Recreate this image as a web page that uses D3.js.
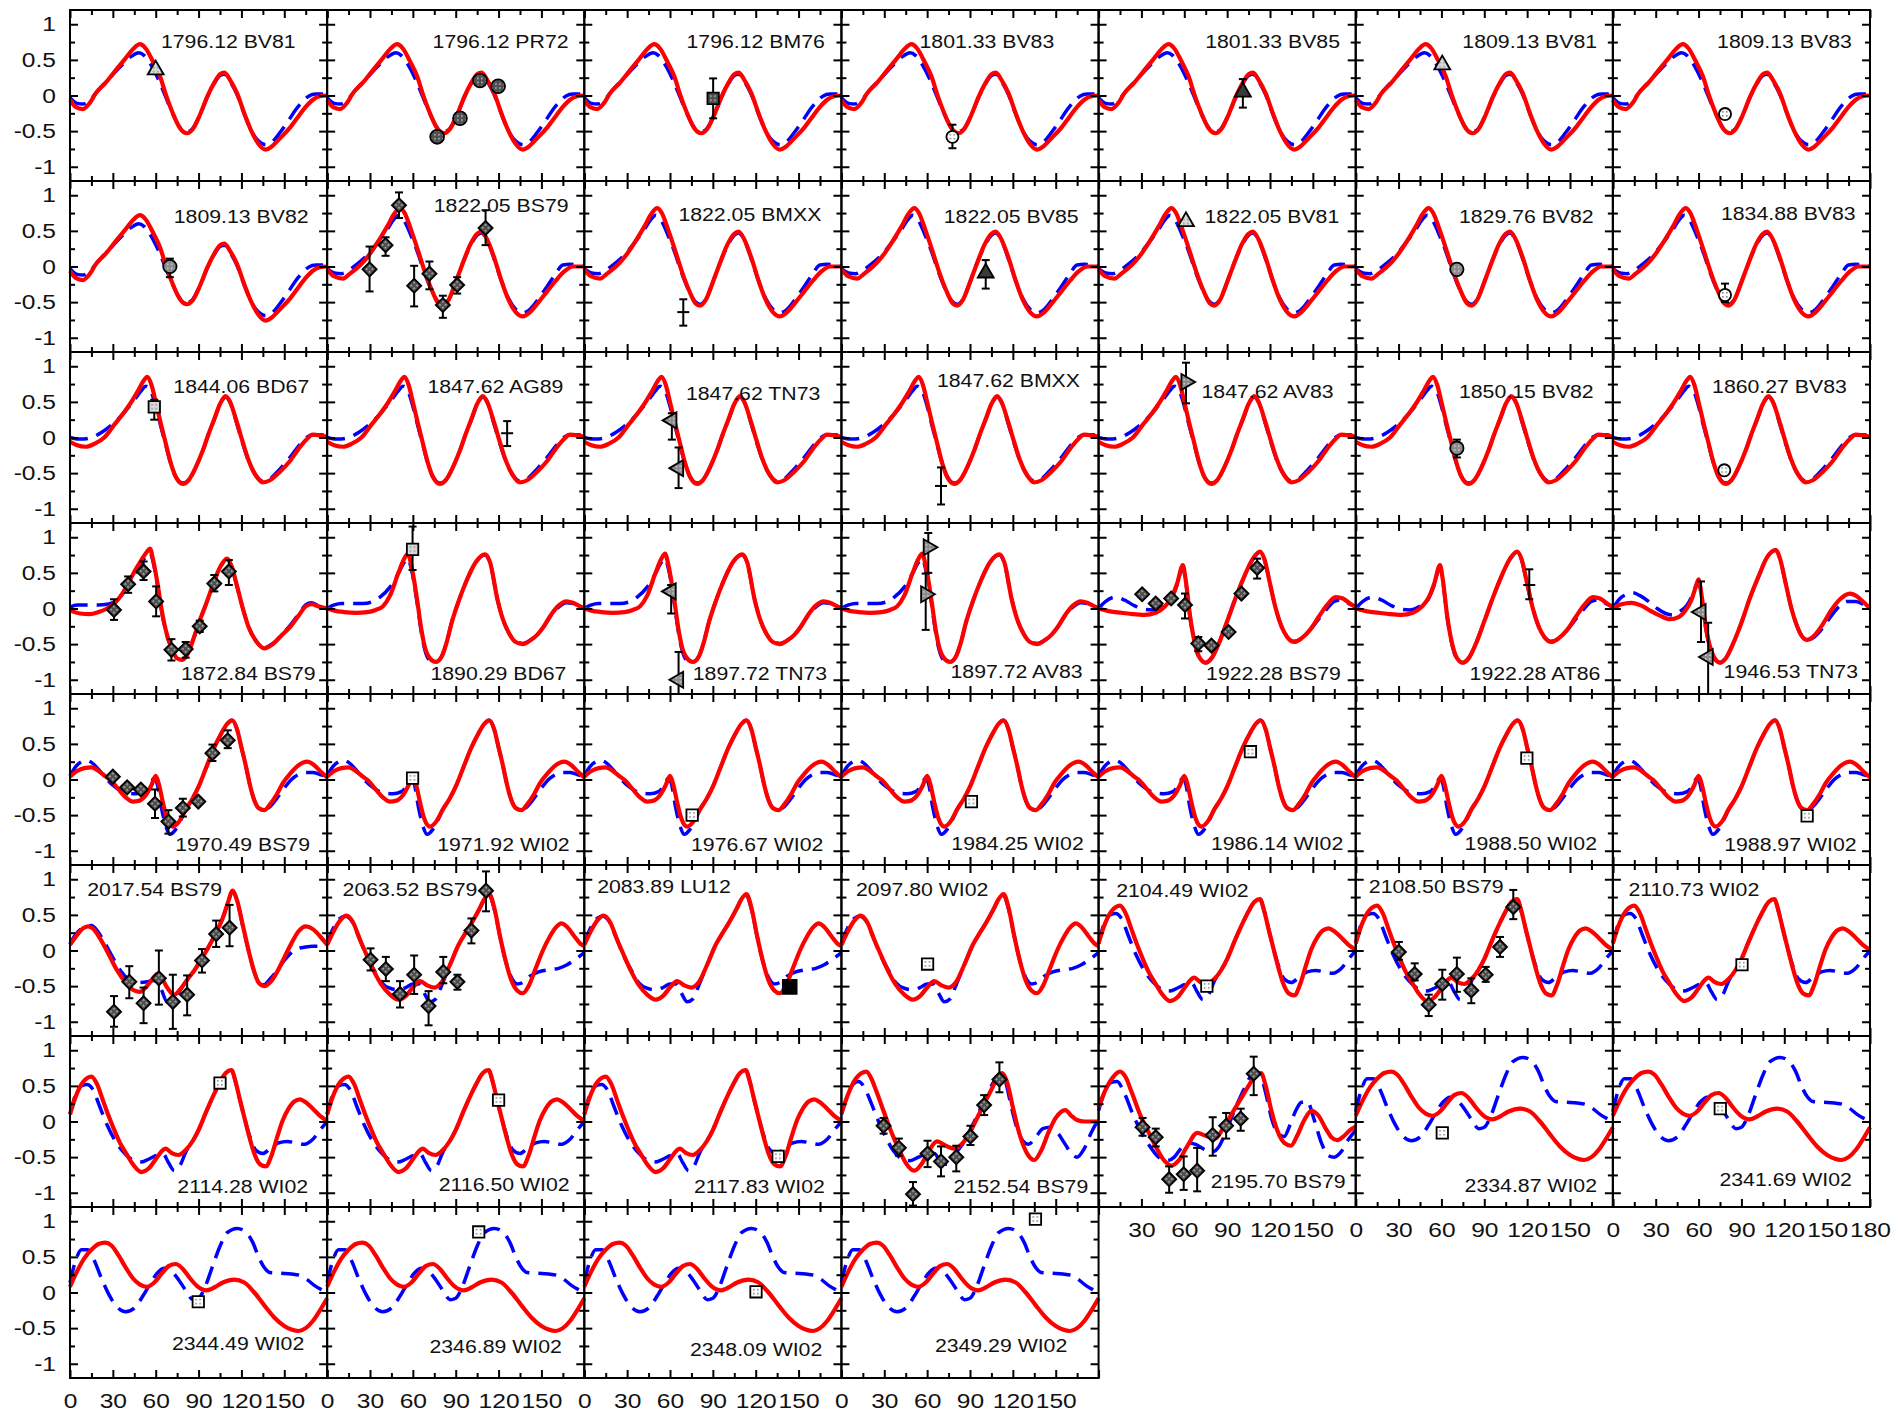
<!DOCTYPE html>
<html><head><meta charset="utf-8">
<script src="https://cdnjs.cloudflare.com/ajax/libs/d3/7.8.5/d3.min.js"></script>
<style>
body{margin:0;background:#fff;}
svg{display:block;font-family:"Liberation Sans",Arial,Helvetica,sans-serif;}
</style></head><body>
<svg id="chart" width="1898" height="1416"></svg>
<script>
// ---------------- DATA ----------------
const panelLabels = [
"1796.12 BV81","1796.12 PR72","1796.12 BM76","1801.33 BV83","1801.33 BV85","1809.13 BV81","1809.13 BV83",
"1809.13 BV82","1822.05 BS79","1822.05 BMXX","1822.05 BV85","1822.05 BV81","1829.76 BV82","1834.88 BV83",
"1844.06 BD67","1847.62 AG89","1847.62 TN73","1847.62 BMXX","1847.62 AV83","1850.15 BV82","1860.27 BV83",
"1872.84 BS79","1890.29 BD67","1897.72 TN73","1897.72 AV83","1922.28 BS79","1922.28 AT86","1946.53 TN73",
"1970.49 BS79","1971.92 WI02","1976.67 WI02","1984.25 WI02","1986.14 WI02","1988.50 WI02","1988.97 WI02",
"2017.54 BS79","2063.52 BS79","2083.89 LU12","2097.80 WI02","2104.49 WI02","2108.50 BS79","2110.73 WI02",
"2114.28 WI02","2116.50 WI02","2117.83 WI02","2152.54 BS79","2195.70 BS79","2334.87 WI02","2341.69 WI02",
"2344.49 WI02","2346.89 WI02","2348.09 WI02","2349.29 WI02"];

// which model curve pair each panel uses
const panelModel = ["A","A","A","A","A","A","A","A","B","B","B","B","B","B",
"C","C","C","C","C","C","C","D","E","E","E","F","F","G",
"H","H","H","H","H","H","H","I","J","J","J","K","K","K",
"K","K","K","L","M","N","N","N","N","N","N"];

// model curves: [angle (deg), value]
const redA=[[0,-0.06],[4,-0.16],[9,-0.19],[14,-0.1],[18,0.03],[25,0.18],[31,0.33],[38,0.5],[44,0.65],[49,0.72],[53,0.66],[58,0.48],[63,0.27],[67,0.02],[72,-0.25],[77,-0.46],[82,-0.53],[86,-0.47],[91,-0.27],[96,-0.02],[101,0.18],[105,0.3],[108,0.32],[112,0.22],[117,0.03],[122,-0.25],[127,-0.5],[132,-0.68],[137,-0.76],[141,-0.72],[147,-0.6],[154,-0.45],[160,-0.29],[165,-0.16],[170,-0.06],[175,-0.01],[180,0]];
const blueA=[[0,-0.03],[5,-0.11],[9,-0.12],[14,-0.06],[20,0.08],[28,0.25],[36,0.42],[43,0.55],[48,0.6],[52,0.56],[57,0.42],[62,0.22],[67,-0.02],[72,-0.26],[77,-0.45],[82,-0.51],[86,-0.46],[91,-0.27],[96,-0.03],[101,0.17],[105,0.28],[108,0.3],[112,0.2],[117,0.01],[122,-0.26],[127,-0.5],[132,-0.64],[137,-0.69],[141,-0.66],[147,-0.52],[153,-0.35],[158,-0.2],[163,-0.08],[167,-0.01],[172,0.02],[180,0.02]];
const redB=[[0,-0.04],[5,-0.14],[11,-0.17],[16,-0.1],[21,-0.02],[26,0.08],[30,0.18],[36,0.36],[42,0.56],[47,0.74],[51,0.82],[54,0.76],[59,0.5],[64,0.2],[68,-0.05],[73,-0.32],[78,-0.52],[81,-0.55],[85,-0.47],[90,-0.22],[95,0.05],[100,0.3],[105,0.46],[108,0.49],[112,0.38],[117,0.12],[122,-0.2],[127,-0.47],[132,-0.64],[137,-0.7],[142,-0.64],[148,-0.5],[154,-0.35],[160,-0.2],[166,-0.07],[172,0],[180,0]];
const blueB=[[0,-0.03],[5,-0.09],[10,-0.1],[16,-0.04],[22,0.05],[28,0.16],[35,0.33],[42,0.52],[47,0.67],[50,0.72],[54,0.64],[59,0.42],[64,0.16],[68,-0.08],[73,-0.33],[78,-0.5],[81,-0.53],[85,-0.46],[90,-0.22],[95,0.05],[100,0.28],[105,0.44],[108,0.47],[112,0.37],[117,0.1],[122,-0.2],[127,-0.45],[132,-0.6],[137,-0.65],[142,-0.6],[148,-0.45],[154,-0.28],[160,-0.1],[165,0.02],[170,0.03],[180,0]];
const redC=[[0,-0.06],[5,-0.11],[11,-0.13],[17,-0.09],[24,0],[31,0.18],[37,0.33],[42,0.47],[48,0.67],[52,0.81],[54,0.85],[57,0.74],[60,0.5],[63.5,0.2],[67,-0.08],[70,-0.32],[74,-0.55],[79,-0.65],[83,-0.6],[88,-0.42],[93,-0.18],[97,0.05],[101,0.26],[105,0.47],[109,0.58],[112,0.5],[117,0.2],[121,-0.07],[125,-0.32],[130,-0.53],[135,-0.63],[140,-0.6],[147,-0.48],[154,-0.33],[160,-0.16],[165,-0.04],[170,0.04],[175,0.03],[180,0.01]];
const blueC=[[0,0],[5,-0.02],[10,-0.02],[15,0],[22,0.07],[30,0.19],[37,0.33],[44,0.5],[50,0.66],[53,0.72],[57,0.63],[60,0.44],[63.5,0.16],[67,-0.1],[70,-0.33],[74,-0.55],[79,-0.64],[83,-0.6],[88,-0.42],[93,-0.18],[97,0.05],[101,0.25],[105,0.46],[109,0.57],[112,0.5],[117,0.18],[121,-0.09],[125,-0.33],[130,-0.53],[135,-0.61],[140,-0.58],[147,-0.44],[154,-0.28],[160,-0.12],[165,-0.01],[170,0.04],[175,0.04],[180,0.02]];
const redD=[[0,-0.03],[7,-0.07],[14,-0.08],[20,-0.05],[26,0],[31,0.07],[37,0.22],[42,0.4],[46,0.55],[50,0.68],[54,0.8],[56,0.84],[58,0.7],[61,0.38],[64,0],[67,-0.3],[71,-0.55],[75,-0.7],[78,-0.72],[82,-0.65],[86,-0.45],[90,-0.21],[95,0.05],[100,0.33],[105,0.58],[110,0.7],[113,0.6],[117,0.31],[121,0],[125,-0.26],[130,-0.45],[136,-0.56],[142,-0.5],[148,-0.38],[154,-0.26],[160,-0.1],[165,0.03],[169,0.06],[174,0.03],[180,0]];
const blueD=[[0,0.02],[5,0.05],[12,0.05],[20,0.05],[26,0.06],[31,0.09],[37,0.21],[42,0.37],[46,0.51],[50,0.64],[54,0.75],[56,0.78],[58,0.67],[61,0.36],[64,-0.02],[67,-0.32],[71,-0.56],[75,-0.7],[78,-0.72],[82,-0.65],[86,-0.45],[90,-0.21],[95,0.05],[100,0.33],[105,0.57],[110,0.69],[113,0.59],[117,0.3],[121,0],[125,-0.26],[130,-0.45],[136,-0.55],[142,-0.49],[148,-0.37],[154,-0.24],[160,-0.08],[165,0.05],[169,0.08],[174,0.04],[180,0]];
const redE=[[0,0],[5,-0.03],[12,-0.05],[20,-0.06],[28,-0.05],[34,-0.02],[39,0.03],[44,0.18],[49.7,0.49],[54,0.7],[56.5,0.77],[59,0.6],[63,0.12],[66,-0.3],[68.4,-0.54],[72,-0.7],[76,-0.75],[80,-0.68],[84,-0.45],[87,-0.21],[92,0.1],[97.8,0.4],[104,0.65],[110.5,0.76],[114,0.65],[119.3,0.12],[123,-0.15],[127.4,-0.35],[132,-0.47],[137,-0.5],[142,-0.45],[147,-0.37],[151.4,-0.26],[157,-0.08],[162,0.04],[167.6,0.1],[172,0.08],[176,0.04],[180,0]];
const blueE=[[0,0],[5,0.05],[10,0.07],[18,0.07],[25,0.07],[31,0.09],[37,0.16],[44,0.3],[50,0.5],[54,0.65],[56.5,0.7],[59,0.55],[63,0.08],[66,-0.34],[68.4,-0.58],[72,-0.73],[76,-0.75],[80,-0.68],[84,-0.45],[87,-0.21],[92,0.1],[97.8,0.4],[104,0.65],[110.5,0.75],[114,0.64],[119.3,0.12],[123,-0.15],[127.4,-0.35],[132,-0.46],[137,-0.49],[142,-0.45],[147,-0.37],[151.4,-0.26],[157,-0.09],[162,0.02],[167.6,0.08],[172,0.07],[176,0.04],[180,0]];
const redF=[[0,0],[8,-0.04],[16,-0.06],[24,-0.08],[32,-0.09],[40,-0.06],[46,0.02],[51,0.15],[55,0.35],[59,0.61],[61,0.4],[64,-0.1],[67,-0.45],[71,-0.7],[75,-0.76],[79,-0.7],[84,-0.5],[90,-0.18],[96,0.15],[102,0.45],[108,0.7],[113,0.8],[116,0.7],[120,0.35],[124,0],[128,-0.25],[132,-0.4],[137,-0.47],[142,-0.42],[148,-0.3],[154,-0.12],[160,0.05],[166,0.16],[171,0.14],[176,0.07],[180,0.02]];
const blueF=[[0,0],[5,0.1],[12,0.16],[18,0.12],[25,0.04],[32,-0.01],[38,-0.02],[44,0.02],[51,0.14],[55,0.33],[59,0.58],[61,0.38],[64,-0.12],[67,-0.47],[71,-0.71],[75,-0.76],[79,-0.7],[84,-0.5],[90,-0.18],[96,0.15],[102,0.45],[108,0.69],[113,0.79],[116,0.69],[120,0.34],[124,0],[128,-0.25],[132,-0.4],[137,-0.46],[142,-0.42],[148,-0.3],[154,-0.15],[160,0],[165,0.1],[170,0.12],[176,0.06],[180,0.02]];
const redG=[[0,0],[6,0.06],[13,0.08],[20,0.04],[27,-0.04],[33,-0.1],[40,-0.15],[46,-0.12],[51,-0.02],[55,0.12],[58,0.3],[60,0.41],[62,0.2],[65,-0.25],[69,-0.6],[72,-0.72],[75,-0.76],[79,-0.7],[84,-0.5],[90,-0.2],[96,0.15],[102,0.45],[108,0.72],[114,0.82],[117,0.7],[121,0.35],[125,0],[129,-0.25],[132,-0.38],[136,-0.44],[141,-0.38],[147,-0.22],[153,-0.02],[159,0.13],[166,0.21],[171,0.17],[176,0.08],[180,0]];
const blueG=[[0,0],[5,0.14],[10,0.2],[14,0.22],[19,0.18],[25,0.1],[31,0],[37,-0.07],[42,-0.09],[47,-0.04],[52,0.05],[56,0.2],[60,0.39],[62,0.18],[65,-0.27],[69,-0.62],[72,-0.73],[75,-0.76],[79,-0.7],[84,-0.5],[90,-0.2],[96,0.15],[102,0.45],[108,0.72],[114,0.82],[117,0.7],[121,0.35],[125,0],[129,-0.25],[132,-0.38],[136,-0.44],[141,-0.4],[147,-0.27],[153,-0.1],[159,0.04],[164,0.1],[170,0.1],[176,0.05],[180,0]];
const redH=[[0,0.04],[5,0.12],[10,0.16],[15,0.17],[20,0.12],[25,0.04],[29,-0.02],[34,-0.14],[39,-0.25],[44,-0.31],[48,-0.3],[53,-0.22],[57,-0.08],[60,0.05],[62,-0.05],[65,-0.32],[68,-0.55],[72,-0.66],[76,-0.6],[81,-0.42],[86,-0.26],[90,-0.1],[95,0.15],[101,0.45],[106,0.65],[110,0.78],[113.5,0.83],[117,0.7],[120,0.45],[123,0.2],[126,-0.08],[129,-0.29],[132,-0.4],[136,-0.43],[140,-0.35],[145,-0.2],[149,-0.05],[154,0.08],[160,0.2],[166,0.25],[171,0.2],[176,0.1],[180,0.03]];
const blueH=[[0,0.05],[4,0.18],[8,0.25],[11,0.27],[15,0.24],[20,0.14],[25,0.02],[30,-0.08],[35,-0.15],[40,-0.19],[46,-0.2],[52,-0.17],[56,-0.08],[59,0.02],[61,-0.06],[64,-0.4],[67,-0.65],[70,-0.77],[74,-0.7],[78,-0.55],[81,-0.42],[86,-0.26],[90,-0.1],[95,0.15],[101,0.45],[106,0.65],[110,0.78],[113.5,0.83],[117,0.7],[120,0.45],[123,0.2],[126,-0.08],[129,-0.29],[132,-0.4],[136,-0.43],[140,-0.38],[145,-0.26],[150,-0.12],[155,0],[160,0.07],[165,0.1],[170,0.1],[175,0.07],[180,0.04]];
const redI=[[0,0.08],[5,0.22],[9,0.31],[12.6,0.34],[16,0.31],[21,0.17],[27,-0.05],[33,-0.28],[39,-0.45],[44,-0.55],[48.8,-0.58],[53,-0.52],[57,-0.42],[61,-0.33],[64,-0.38],[68,-0.52],[72.9,-0.62],[77,-0.55],[82,-0.41],[87,-0.28],[92,-0.12],[97,0.05],[102,0.24],[107,0.46],[111,0.7],[113.6,0.84],[117,0.7],[121,0.35],[125,0],[129,-0.3],[132,-0.45],[135.8,-0.5],[140,-0.45],[145,-0.3],[150,-0.1],[155,0.1],[160,0.27],[165,0.34],[170,0.3],[175,0.2],[180,0.08]];
const blueI=[[0,0.1],[5,0.25],[10,0.33],[15,0.35],[19,0.28],[24,0.12],[30,-0.1],[36,-0.3],[42,-0.42],[48,-0.45],[54,-0.44],[58,-0.42],[61,-0.43],[64,-0.55],[68,-0.72],[72,-0.7],[77,-0.56],[82,-0.41],[87,-0.28],[92,-0.12],[97,0.05],[102,0.24],[107,0.46],[111,0.7],[113.6,0.83],[117,0.69],[121,0.34],[125,0],[129,-0.3],[132,-0.44],[135.8,-0.48],[140,-0.4],[145,-0.28],[150,-0.14],[155,-0.03],[160,0.03],[165,0.05],[170,0.06],[175,0.06],[180,0.05]];
const redJ=[[0,0.08],[4,0.25],[9,0.42],[13.5,0.49],[18,0.4],[23,0.15],[28,-0.08],[33,-0.3],[38,-0.48],[44,-0.62],[50,-0.69],[55,-0.64],[60,-0.52],[65,-0.43],[70,-0.49],[75,-0.52],[80,-0.45],[86,-0.2],[92,0.08],[97,0.25],[101,0.38],[106,0.56],[110,0.72],[113.5,0.79],[117,0.6],[121,0.2],[125,-0.15],[129,-0.42],[133,-0.56],[137,-0.6],[141,-0.5],[146,-0.25],[151,0],[156,0.2],[160,0.32],[164,0.38],[168,0.33],[173,0.2],[177,0.1],[180,0.06]];
const blueJ=[[0,0.1],[4,0.3],[9,0.45],[13,0.48],[17,0.42],[22,0.2],[27,-0.05],[33,-0.28],[38,-0.45],[44,-0.53],[50,-0.55],[55,-0.52],[60,-0.47],[64,-0.47],[68,-0.6],[72,-0.72],[76,-0.68],[80,-0.5],[86,-0.2],[92,0.08],[97,0.25],[101,0.38],[106,0.56],[110,0.71],[113.5,0.77],[117,0.58],[121,0.2],[125,-0.15],[129,-0.38],[133,-0.47],[137,-0.45],[142,-0.36],[148,-0.3],[155,-0.27],[162,-0.25],[168,-0.2],[174,-0.12],[180,-0.03]];
const redK=[[0,0.1],[4,0.35],[9,0.55],[15,0.63],[19,0.52],[23,0.3],[27,0.08],[31,-0.12],[35,-0.3],[39.4,-0.45],[44,-0.6],[50,-0.71],[55,-0.66],[60,-0.53],[64,-0.42],[67,-0.38],[71,-0.44],[76,-0.47],[81,-0.4],[86,-0.27],[90,-0.12],[95,0.12],[101,0.39],[105,0.55],[109,0.68],[113,0.72],[116,0.55],[119,0.3],[122.5,0.02],[126,-0.25],[129,-0.45],[133,-0.6],[137,-0.63],[141,-0.48],[145,-0.22],[149,0.02],[153,0.18],[157,0.28],[161,0.31],[165,0.27],[170,0.18],[175,0.08],[180,0.01]];
const blueK=[[0,0.1],[4,0.38],[8,0.5],[12,0.52],[16,0.45],[21,0.2],[26,-0.05],[31,-0.25],[37,-0.42],[43,-0.53],[49,-0.57],[55,-0.53],[60,-0.48],[65,-0.45],[69,-0.58],[73,-0.69],[77,-0.62],[81,-0.43],[86,-0.27],[90,-0.12],[95,0.12],[101,0.39],[105,0.55],[109,0.68],[113,0.72],[116,0.55],[119,0.3],[122.5,0.02],[126,-0.22],[130,-0.4],[135,-0.45],[140,-0.38],[146,-0.3],[152,-0.28],[158,-0.3],[164,-0.32],[170,-0.25],[175,-0.12],[180,0]];
const redL=[[0,0.11],[5,0.4],[10,0.6],[17.5,0.7],[21,0.6],[24,0.45],[30,0.12],[35,-0.15],[40,-0.38],[45,-0.58],[51,-0.69],[56,-0.6],[61,-0.42],[67,-0.28],[73,-0.34],[79,-0.38],[85,-0.3],[90,-0.15],[95,0.05],[100,0.25],[105,0.45],[110,0.64],[112.5,0.68],[116,0.55],[120,0.2],[125,-0.2],[130,-0.45],[135,-0.54],[140,-0.4],[145,-0.15],[150,0.05],[156.7,0.16],[161,0.08],[165,0.02],[170,0],[180,0]];
const blueL=[[0,0.1],[4,0.35],[8,0.52],[12,0.56],[16,0.48],[21,0.25],[26,0],[31,-0.22],[36,-0.4],[42,-0.52],[48,-0.55],[54,-0.5],[60,-0.45],[65,-0.45],[69,-0.55],[73,-0.6],[77,-0.55],[81,-0.42],[86,-0.28],[90,-0.12],[95,0.08],[100,0.3],[105,0.5],[109,0.63],[112,0.67],[115,0.55],[119,0.2],[123,-0.1],[127,-0.27],[131,-0.32],[136,-0.22],[141,-0.1],[146,-0.08],[151,-0.15],[156,-0.3],[161,-0.45],[165,-0.5],[170,-0.38],[175,-0.15],[180,0.03]];
const redM=[[0,0.2],[5,0.45],[10,0.62],[15,0.7],[19,0.62],[23,0.42],[30,0.05],[35,-0.15],[40,-0.35],[46,-0.55],[51,-0.62],[56,-0.55],[62,-0.35],[69,-0.16],[75,-0.2],[81.6,-0.24],[87,-0.1],[93,0.1],[99,0.3],[105,0.5],[110,0.65],[113.7,0.68],[117,0.5],[121,0.15],[125,-0.12],[130,-0.3],[134.7,-0.34],[139,-0.2],[144,0.02],[149,0.15],[154,0.08],[159,-0.1],[163,-0.22],[167,-0.26],[172,-0.2],[176,-0.12],[180,-0.07]];
const blueM=[[0,0.15],[4,0.4],[9,0.55],[13,0.56],[18,0.4],[24,0.1],[30,-0.15],[36,-0.35],[42,-0.5],[48,-0.55],[53,-0.5],[58,-0.37],[63,-0.3],[68,-0.32],[73,-0.38],[79,-0.43],[84,-0.36],[89,-0.15],[95,0.15],[101,0.42],[106,0.62],[110,0.7],[113,0.66],[117,0.4],[121,0.05],[125,-0.15],[130,-0.21],[134,-0.05],[138,0.15],[142,0.27],[146,0.28],[151,0.02],[156,-0.3],[161,-0.48],[165,-0.5],[170,-0.42],[175,-0.25],[180,-0.12]];
const redN=[[0,0.08],[5,0.3],[10,0.48],[15,0.6],[20,0.68],[24.7,0.7],[29,0.66],[34,0.52],[39,0.35],[44,0.2],[49,0.11],[54,0.08],[59,0.14],[64,0.26],[69,0.37],[74,0.4],[79,0.33],[84,0.2],[89,0.09],[95.6,0.03],[101,0.07],[107,0.14],[115,0.18],[122,0.14],[129,0],[136,-0.18],[143,-0.35],[150,-0.47],[155,-0.52],[160,-0.54],[165,-0.5],[170,-0.4],[175,-0.25],[180,-0.08]];
const blueN=[[0,0.14],[4,0.45],[8,0.6],[12.6,0.6],[17,0.45],[22,0.2],[27,-0.02],[32,-0.18],[39,-0.27],[45,-0.22],[51,-0.05],[56,0.12],[61,0.27],[66,0.34],[71,0.3],[76,0.18],[81,0.03],[86,-0.1],[90,-0.08],[95,0.1],[100,0.38],[105,0.65],[110,0.84],[117,0.9],[123,0.85],[128,0.7],[132,0.5],[136,0.35],[140,0.28],[148,0.27],[155,0.26],[161,0.24],[166,0.18],[171,0.1],[176,0.04],[180,0]];

// observations per panel: [angle, value, errLow, errHigh]
const observations = [
 [[60,0.36]],
 [[77,-0.58],[93,-0.32],[107,0.21],[119.7,0.13]],
 [[90.2,-0.04,-0.32,0.24]],
 [[77.7,-0.58,-0.74,-0.41]],
 [[101,0.05,-0.17,0.23]],
 [[60.6,0.43]],
 [[78.5,-0.26]],
 [[69.9,0,-0.15,0.11]],
 [[29.7,-0.04,-0.35,0.28],[40.9,0.3,0.15,0.41],[50.3,0.86,0.68,1.04],[60.9,-0.27,-0.56,0.01],[71.6,-0.1,-0.32,0.07],[81,-0.54,-0.72,-0.41],[91,-0.26,-0.38,-0.15],[110.9,0.54,0.3,0.79]],
 [[69.3,-0.64,-0.83,-0.46]],
 [[101,-0.09,-0.31,0.09]],
 [[61.2,0.63]],
 [[70.8,-0.04]],
 [[78.5,-0.4,-0.5,-0.24]],
 [[59,0.43,0.25,0.53]],
 [[126,0.06,-0.12,0.23]],
 [[61.3,0.24,-0.03,0.34],[66,-0.43,-0.71,-0.14]],
 [[69.7,-0.68,-0.94,-0.42]],
 [[61.2,0.78,0.48,1.05]],
 [[70.8,-0.15,-0.28,-0.03]],
 [[78,-0.46]],
 [[30.8,-0.02,-0.16,0.13],[40.7,0.34,0.22,0.45],[51.5,0.52,0.4,0.66],[60.3,0.1,-0.11,0.31],[71,-0.58,-0.73,-0.43],[81,-0.57,-0.69,-0.47],[90.8,-0.25,-0.33,-0.17],[101,0.35,0.24,0.47],[111.2,0.52,0.33,0.68]],
 [[59.8,0.83,0.54,1.15]],
 [[60.8,0.24,-0.07,0.33],[66,-1.0,-1.2,-0.61]],
 [[60.8,0.86,0.5,1.06],[59,0.2,-0.3,0.49]],
 [[30.5,0.2],[40,0.07],[50.8,0.14],[60.5,0.05,-0.14,0.21],[69.8,-0.49,-0.6,-0.4],[79,-0.52],[91,-0.33],[100,0.21],[111,0.57,0.42,0.7]],
 [[121.5,0.33,0.13,0.55]],
 [[61.7,-0.05,-0.47,0.38],[66.7,-0.68,-1.2,-0.2]],
 [[30,0.04],[40,-0.11],[49.6,-0.14],[59.5,-0.34,-0.54,-0.14],[68.9,-0.59,-0.76,-0.43],[79,-0.4,-0.52,-0.27],[89.8,-0.31],[99.7,0.37,0.26,0.49],[110.4,0.55,0.44,0.69]],
 [[59.8,0.02]],
 [[75.5,-0.5]],
 [[91,-0.31]],
 [[106.3,0.39]],
 [[119.8,0.3]],
 [[136,-0.51]],
 [[30.8,-0.86,-1.07,-0.64],[41.5,-0.44,-0.67,-0.22],[51.5,-0.74,-1.02,-0.52],[62.2,-0.39,-0.76,0],[72,-0.72,-1.1,-0.34],[82,-0.62,-0.91,-0.35],[92.4,-0.14,-0.31,0.02],[102.3,0.23,0.05,0.42],[111.7,0.32,0.06,0.64]],
 [[30.4,-0.13,-0.28,0.03],[41.1,-0.26,-0.43,-0.09],[51,-0.61,-0.8,-0.43],[60.9,-0.34,-0.61,-0.07],[71,-0.78,-1.05,-0.57],[81.3,-0.3,-0.46,-0.09],[91.2,-0.44,-0.55,-0.34],[101,0.28,0.1,0.45],[111.2,0.84,0.55,1.11]],
 [[143.8,-0.51]],
 [[60.3,-0.19]],
 [[75.8,-0.5]],
 [[30.2,-0.02,-0.13,0.12],[41.3,-0.33,-0.42,-0.18],[51.1,-0.76,-0.92,-0.62],[60.6,-0.47,-0.69,-0.27],[70.8,-0.33,-0.58,-0.1],[80.9,-0.56,-0.74,-0.39],[91,-0.34,-0.44,-0.23],[101,0.05,-0.09,0.19],[110.3,0.61,0.44,0.85]],
 [[90.4,-0.2]],
 [[105,0.54]],
 [[120,0.3]],
 [[135.7,-0.49]],
 [[29.5,-0.06,-0.17,0.05],[40.2,-0.37,-0.48,-0.24],[50.1,-1.02,-1.18,-0.85],[60.3,-0.45,-0.64,-0.27],[69.7,-0.56,-0.77,-0.35],[80.4,-0.5,-0.7,-0.34],[90.3,-0.21,-0.33,-0.06],[99.9,0.23,0.09,0.37],[110.6,0.59,0.41,0.83]],
 [[30.8,-0.08,-0.2,0.05],[40,-0.22,-0.35,-0.1],[49.4,-0.81,-1.0,-0.63],[59.6,-0.74,-0.96,-0.49],[69,-0.69,-0.98,-0.37],[79.9,-0.19,-0.48,0.06],[89.3,-0.06,-0.24,0.12],[99.5,0.04,-0.13,0.18],[108.6,0.67,0.37,0.91]],
 [[60.6,-0.16]],
 [[75.2,0.18]],
 [[89.8,-0.13]],
 [[106.1,0.85]],
 [[120.2,0.01]],
 [[135.8,1.03]]
];

// tick values
const xMajorTicks=[0,30,60,90,120,150,180];
const xMinorTicks=[15,45,75,105,135,165];
const yMajorTicks=[-1,-0.5,0,0.5,1];
const yMinorTicks=[-0.75,-0.25,0.25,0.75];
const xTickLabels=[0,30,60,90,120,150];

// ---------------- LAYOUT / STYLE ----------------
// label placement per panel: [anchor, angle, value]
const labelPlace=[
["e",158,0.66],["e",169,0.66],["e",168.4,0.66],["e",149,0.66],["e",169,0.66],["e",169,0.66],["e",167.3,0.66],
["e",167,0.61],["e",169,0.77],["e",166,0.64],["e",166,0.61],["e",168.5,0.61],["e",166.6,0.61],["e",170,0.65],
["e",167.5,0.62],["e",165.4,0.62],["e",165.2,0.53],["e",167,0.71],["e",164.5,0.56],["e",166.6,0.56],["e",163.8,0.62],
["e",172,-1.01],["e",167.5,-1.01],["e",170,-1.01],["e",168.8,-0.97],["e",169.6,-1.01],["e",171.3,-1.01],["e",171.6,-0.98],
["e",168,-1.01],["e",169.7,-1.01],["e",167.4,-1.01],["e",169.6,-0.99],["e",171.3,-0.99],["e",168.9,-0.99],["e",170.6,-1.01],
["s",12.1,0.76],["s",10.8,0.76],["s",9,0.81],["s",10.2,0.76],["s",12.3,0.75],["s",9.2,0.81],["s",10.9,0.76],
["e",166.7,-1.0],["e",169.7,-0.98],["e",168.4,-1.0],["e",172.8,-1.0],["e",172.9,-0.94],["e",168.9,-0.99],["e",167.3,-0.91],
["e",164,-0.81],["e",164.3,-0.85],["e",166.6,-0.89],["e",158.1,-0.84]];

const models={A:[redA,blueA],B:[redB,blueB],C:[redC,blueC],D:[redD,blueD],E:[redE,blueE],F:[redF,blueF],G:[redG,blueG],
 H:[redH,blueH],I:[redI,blueI],J:[redJ,blueJ],K:[redK,blueK],L:[redL,blueL],M:[redM,blueM],N:[redN,blueN]};

const markerStyle={
 BV81:{shape:"triUp",size:110,fill:"url(#patLightGray)"},
 BV85:{shape:"triUp",size:110,fill:"#3a3a3a"},
 PR72:{shape:"circle",size:150,fill:"url(#patDark)"},
 BV82:{shape:"circle",size:140,fill:"url(#patMid)"},
 BV83:{shape:"circle",size:115,fill:"url(#patWhite)"},
 BM76:{shape:"square",size:130,fill:"url(#patDark)"},
 BD67:{shape:"square",size:130,fill:"url(#patLightGray)"},
 WI02:{shape:"square",size:130,fill:"url(#patWhite)"},
 LU12:{shape:"square",size:190,fill:"#000"},
 BS79:{shape:"diamond",size:100,fill:"url(#patDark)"},
 TN73:{shape:"triLeft",size:110,fill:"url(#patMid)"},
 AV83:{shape:"triRight",size:110,fill:"url(#patMid)"},
 BMXX:{shape:"plus"},AG89:{shape:"plus"},AT86:{shape:"plus"}
};

const marginL=70, marginT=10, pw=1800/7, ph=1368/8;
const labelStretch=1.12, tickStretch=1.17;
const svg=d3.select("#chart");

// patterns
const defs=svg.append("defs");
function mkPat(id,bg,dot){
  const p=defs.append("pattern").attr("id",id).attr("width",4).attr("height",4).attr("patternUnits","userSpaceOnUse");
  p.append("rect").attr("width",4).attr("height",4).attr("fill",bg);
  p.append("rect").attr("x",1).attr("y",1).attr("width",1.6).attr("height",1.6).attr("fill",dot);
}
mkPat("patDark","#4d4d4d","#b8b8b8");
mkPat("patMid","#8a8a8a","#d0d0d0");
mkPat("patLightGray","#d8d8d8","#9a9a9a");
mkPat("patWhite","#ffffff","#8a8a8a");

const x=d3.scaleLinear().domain([0,180]).range([0,pw]);
const y=d3.scaleLinear().domain([-1.2,1.2]).range([ph,0]);
const line=d3.line().x(d=>x(d[0])).y(d=>y(d[1])).curve(d3.curveMonotoneX);

function styleAxis(sel){ sel.select(".domain").remove(); sel.selectAll("line").attr("stroke","#000").attr("stroke-width",2); }

panelLabels.forEach((lab,i)=>{
  const r=Math.floor(i/7), c=i%7;
  const g=svg.append("g").attr("transform",`translate(${marginL+c*pw},${marginT+r*ph})`);
  const [red,blue]=models[panelModel[i]];
  g.append("path").datum(blue).attr("d",line).attr("fill","none").attr("stroke","#0000ff")
    .attr("stroke-width",3.5).attr("stroke-dasharray","18,9");
  g.append("path").datum(red).attr("d",line).attr("fill","none").attr("stroke","#ff0000")
    .attr("stroke-width",4.2).attr("stroke-linejoin","round");

  // ticks (inward on all sides)
  [[xMajorTicks,8],[xMinorTicks,5]].forEach(([vals,len])=>{
    g.append("g").attr("transform",`translate(0,${ph})`).call(d3.axisBottom(x).tickValues(vals).tickSize(-len).tickFormat("")).call(styleAxis);
    g.append("g").call(d3.axisTop(x).tickValues(vals).tickSize(-len).tickFormat("")).call(styleAxis);
  });
  [[yMajorTicks,8],[yMinorTicks,5]].forEach(([vals,len])=>{
    g.append("g").call(d3.axisLeft(y).tickValues(vals).tickSize(-len).tickFormat("")).call(styleAxis);
    g.append("g").attr("transform",`translate(${pw},0)`).call(d3.axisRight(y).tickValues(vals).tickSize(-len).tickFormat("")).call(styleAxis);
  });

  // observations
  const src=lab.split(" ")[1];
  const st=markerStyle[src];
  const pts=observations[i];
  pts.forEach(p=>{
    const px=x(p[0]), py=y(p[1]);
    if(p.length>2){
      const ylo=y(Math.max(p[2],-1.2)), yhi=y(p[3]);
      const eg=g.append("g").attr("stroke","#000").attr("stroke-width",2);
      eg.append("line").attr("x1",px).attr("x2",px).attr("y1",ylo).attr("y2",yhi);
      eg.append("line").attr("x1",px-4).attr("x2",px+4).attr("y1",ylo).attr("y2",ylo);
      eg.append("line").attr("x1",px-4).attr("x2",px+4).attr("y1",yhi).attr("y2",yhi);
    }
    if(st.shape==="plus"){
      g.append("line").attr("x1",px-6).attr("x2",px+6).attr("y1",py).attr("y2",py).attr("stroke","#000").attr("stroke-width",2);
      return;
    }
    let sym, rot=0;
    if(st.shape==="diamond"){sym=d3.symbolSquare;rot=45;}
    else if(st.shape==="square"){sym=d3.symbolSquare;}
    else if(st.shape==="circle"){sym=d3.symbolCircle;}
    else if(st.shape==="triUp"){sym=d3.symbolTriangle;}
    else if(st.shape==="triLeft"){sym=d3.symbolTriangle;rot=-90;}
    else if(st.shape==="triRight"){sym=d3.symbolTriangle;rot=90;}
    g.append("path").attr("d",d3.symbol().type(sym).size(st.size)())
      .attr("transform",`translate(${px},${py}) rotate(${rot})`)
      .attr("fill",st.fill).attr("stroke","#000").attr("stroke-width",1.8);
  });

  // panel label
  const lp=labelPlace[i];
  g.append("text").attr("transform",`translate(${x(lp[1])},${y(lp[2])}) scale(${labelStretch},1)`)
    .attr("text-anchor",lp[0]==="e"?"end":"start")
    .attr("font-size",19).attr("fill","#111").text(lab);

  // frame
  g.append("rect").attr("width",pw).attr("height",ph).attr("fill","none").attr("stroke","#000").attr("stroke-width",2);

  // y tick labels on first column
  if(c===0){
    const ya=g.append("g").call(d3.axisLeft(y).tickValues(yMajorTicks).tickSize(0).tickPadding(12).tickFormat(d=>String(d)));
    ya.select(".domain").remove();
    ya.selectAll("text").attr("font-size",21).attr("font-family",null).attr("fill","#111")
      .attr("transform",`scale(${tickStretch},1)`);
  }
  // x tick labels on bottom panels
  if(i>=46){
    let vals=xTickLabels.slice();
    if(i===46) vals=vals.filter(v=>v!==0);
    if(i===48) vals=vals.concat([180]);
    const xa=g.append("g").attr("transform",`translate(0,${ph})`)
      .call(d3.axisBottom(x).tickValues(vals).tickSize(0).tickPadding(15).tickFormat(d=>String(d)));
    xa.select(".domain").remove();
    xa.selectAll("text").attr("font-size",21).attr("font-family",null).attr("fill","#111")
      .attr("transform",`scale(${tickStretch},1)`);
  }
});
</script>
</body></html>
